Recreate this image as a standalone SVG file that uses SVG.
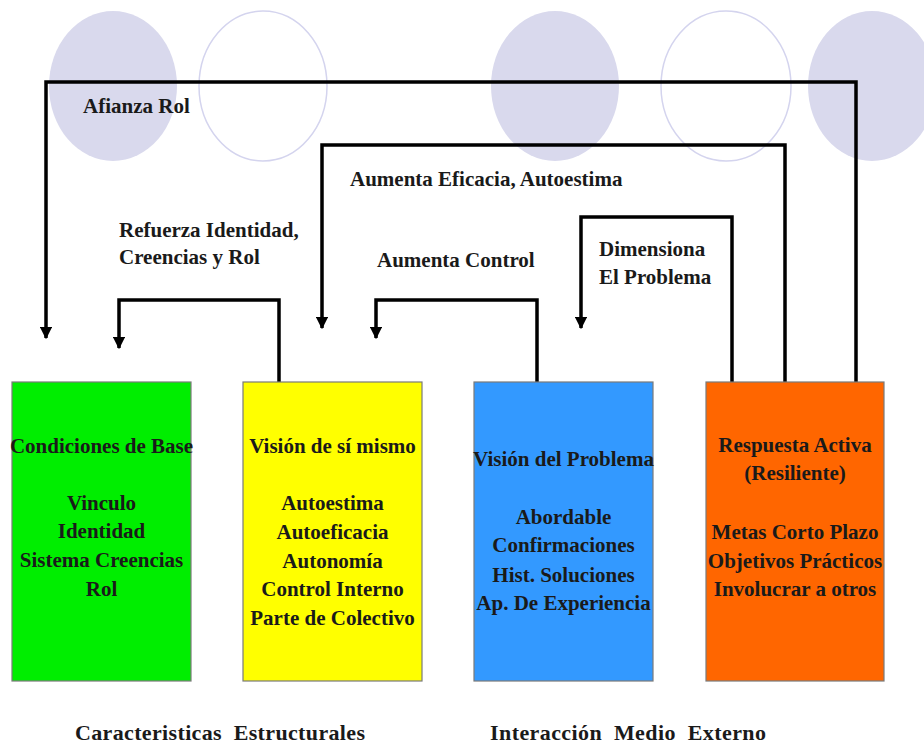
<svg xmlns="http://www.w3.org/2000/svg" width="924" height="744" viewBox="0 0 924 744">
<style>
.bg{fill:#ffffff}
.cf{fill:#d9d9ed;stroke:none}
.co{fill:none;stroke:#d4d4ee;stroke-width:1.5}
.box{stroke:#7a7a7a;stroke-width:1.2}
.t{font-family:"Liberation Serif","Times New Roman",serif;font-weight:bold;font-size:21px;fill:#1a1a1a}
.f{font-size:22px}
.c{text-anchor:middle}
.ln{fill:none;stroke:#000;stroke-width:3.5;stroke-linejoin:miter}
</style>
<defs>
<marker id="ah" viewBox="0 0 10 10" refX="9" refY="5" markerWidth="3.6" markerHeight="3.6" markerUnits="strokeWidth" orient="auto">
<path d="M0,0 L10,5 L0,10 Z" fill="#000"/>
</marker>
</defs>
<rect class="bg" x="0" y="0" width="924" height="744"/>
<g id="decor">
<ellipse class="cf" cx="113" cy="86" rx="64" ry="75"/>
<ellipse class="co" cx="263" cy="86" rx="64" ry="75"/>
<ellipse class="cf" cx="555" cy="86" rx="64" ry="75"/>
<ellipse class="co" cx="726" cy="86" rx="65" ry="75"/>
<ellipse class="cf" cx="872" cy="86" rx="64" ry="75"/>
</g>
<g id="connectors">
<polyline class="ln" points="856,382 856,82 46,82 46,338" marker-end="url(#ah)"/>
<polyline class="ln" points="785,382 785,145 322,145 322,328" marker-end="url(#ah)"/>
<polyline class="ln" points="732,382 732,217 581,217 581,328" marker-end="url(#ah)"/>
<polyline class="ln" points="537,382 537,300 376,300 376,338" marker-end="url(#ah)"/>
<polyline class="ln" points="279,382 279,300 119,300 119,348" marker-end="url(#ah)"/>
</g>
<g id="labels">
<text class="t" x="83" y="113">Afianza Rol</text>
<text class="t" x="350" y="186">Aumenta Eficacia, Autoestima</text>
<text class="t" x="119" y="237">Refuerza Identidad,</text>
<text class="t" x="119" y="264">Creencias y Rol</text>
<text class="t" x="377" y="267">Aumenta Control</text>
<text class="t" x="599" y="256">Dimensiona</text>
<text class="t" x="599" y="284">El Problema</text>
</g>
<g id="node-base">
<rect class="box" x="12" y="382" width="179" height="299" fill="#00ee00"/>
<text class="t c" x="101.5" y="453">Condiciones de Base</text>
<text class="t c" x="101.5" y="510">Vinculo</text>
<text class="t c" x="101.5" y="538">Identidad</text>
<text class="t c" x="101.5" y="567">Sistema Creencias</text>
<text class="t c" x="101.5" y="596">Rol</text>
</g>
<g id="node-vision-si">
<rect class="box" x="243" y="382" width="179" height="299" fill="#ffff00"/>
<text class="t c" x="332.5" y="453">Visión de sí mismo</text>
<text class="t c" x="332.5" y="510">Autoestima</text>
<text class="t c" x="332.5" y="539">Autoeficacia</text>
<text class="t c" x="332.5" y="568">Autonomía</text>
<text class="t c" x="332.5" y="596">Control Interno</text>
<text class="t c" x="332.5" y="625">Parte de Colectivo</text>
</g>
<g id="node-vision-problema">
<rect class="box" x="474" y="382" width="179" height="299" fill="#3399ff"/>
<text class="t c" x="563.5" y="466">Visión del Problema</text>
<text class="t c" x="563.5" y="524">Abordable</text>
<text class="t c" x="563.5" y="552">Confirmaciones</text>
<text class="t c" x="563.5" y="582">Hist. Soluciones</text>
<text class="t c" x="563.5" y="610">Ap. De Experiencia</text>
</g>
<g id="node-respuesta">
<rect class="box" x="706" y="382" width="178" height="299" fill="#ff6600"/>
<text class="t c" x="795" y="452">Respuesta Activa</text>
<text class="t c" x="795" y="480">(Resiliente)</text>
<text class="t c" x="795" y="539">Metas Corto Plazo</text>
<text class="t c" x="795" y="568">Objetivos Prácticos</text>
<text class="t c" x="795" y="596">Involucrar a otros</text>
</g>
<g id="footer">
<text class="t f" x="75" y="740" textLength="290" xml:space="preserve">Caracteristicas  Estructurales</text>
<text class="t f" x="490" y="740" textLength="276" xml:space="preserve">Interacción  Medio  Externo</text>
</g>
</svg>
